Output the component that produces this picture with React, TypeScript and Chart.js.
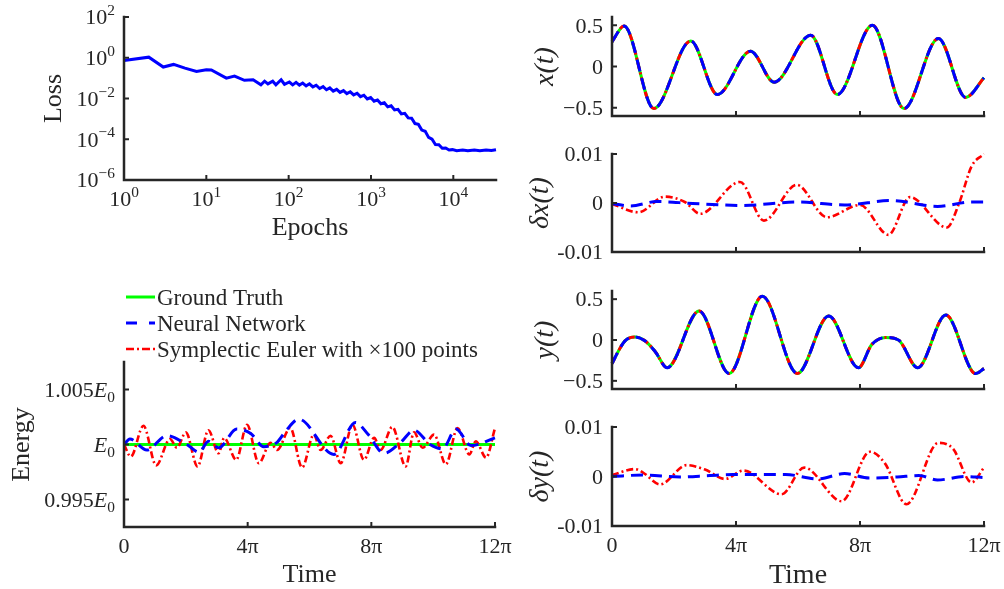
import React, { useEffect, useRef } from "react";
import { Chart, registerables } from "chart.js";
Chart.register(...registerables);

const W = 1004;
const H = 589;
const SERIF = '"Liberation Serif", "Times New Roman", serif';
const INK = "#262626";
const GREEN = "#00ff00";
const BLUE = "#0000ff";
const RED = "#ff0000";

// ---------- data ----------
const lossEpochs = [1, 2, 3, 4, 5.5, 7.6, 10, 11.5, 17.5, 22, 29, 37, 46, 51, 56, 64, 70, 81, 89, 102, 112, 123, 135, 148, 163, 179, 197, 216, 238, 262, 288, 316, 348, 383, 421, 463, 509, 560, 616, 678, 745, 820, 902, 992, 1091, 1200, 1320, 1452, 1597, 1757, 1933, 2126, 2339, 2573, 2830, 3113, 3424, 3766, 4143, 4557, 5013, 5514, 6065, 6672, 7339, 8073, 8880, 9768, 11000, 13000, 15000, 18000, 21000, 25000, 29000, 33000];
const lossValues = [0.74, 1.07, 0.35, 0.47, 0.31, 0.21, 0.26, 0.25, 0.1, 0.126, 0.078, 0.083, 0.047, 0.071, 0.052, 0.071, 0.047, 0.083, 0.05, 0.0646, 0.0468, 0.0617, 0.0457, 0.0575, 0.0417, 0.0525, 0.0372, 0.0447, 0.0309, 0.038, 0.0269, 0.0331, 0.0229, 0.0282, 0.02, 0.0245, 0.0174, 0.0214, 0.0151, 0.0182, 0.0123, 0.0145, 0.00955, 0.0112, 0.00741, 0.00851, 0.0055, 0.00617, 0.00389, 0.00437, 0.00275, 0.00295, 0.00174, 0.00186, 0.00112, 0.00107, 5.89e-4, 5.37e-4, 2.82e-4, 2.45e-4, 1.23e-4, 1.0e-4, 5.5e-5, 5.37e-5, 3.63e-5, 3.72e-5, 2.95e-5, 3.09e-5, 2.75e-5, 2.95e-5, 2.7e-5, 2.95e-5, 2.75e-5, 3.0e-5, 2.8e-5, 3.05e-5];

const timeTickValues = [0, 4, 8, 12];
const timeTickLabels = ["0", "4π", "8π", "12π"];

const energyTruthTime = [0, 12];
const energyTruth = [1, 1];
const energyNNTime = [0, 0.19, 0.74, 1.38, 2.03, 2.43, 2.73, 3.06, 3.65, 4.1, 4.52, 4.95, 5.25, 5.65, 6.79, 7.49, 7.9, 8.41, 8.95, 9.38, 9.9, 10.3, 10.74, 11.22, 12];
const energyNN = [1.0, 1.0005, 0.9995, 1.0008, 1.0, 0.9993, 1.0003, 0.9997, 1.0014, 1.001, 0.9998, 1.0002, 1.0013, 1.0023, 0.9991, 1.002, 1.0009, 0.9992, 1.0002, 1.0013, 1.0, 0.9996, 1.0014, 0.9999, 1.0006];
const energySETime = [0, 0.22, 0.63, 1.04, 1.49, 1.71, 2.0, 2.38, 2.73, 3.06, 3.24, 3.63, 3.98, 4.36, 4.74, 4.95, 5.38, 5.76, 6.14, 6.36, 6.68, 7.01, 7.39, 7.76, 8.09, 8.3, 8.68, 9.11, 9.38, 9.66, 10.03, 10.41, 10.79, 11.17, 11.38, 11.71, 12];
const energySE = [1.0, 0.9989, 1.0017, 0.9981, 1.0005, 0.9997, 1.0011, 0.998, 1.0013, 0.9992, 1.0006, 0.9986, 1.0018, 0.9983, 1.00015, 0.9995, 1.0015, 0.9979, 1.0009, 0.9995, 1.0008, 0.9983, 1.0018, 0.9986, 1.0006, 0.9995, 1.0016, 0.998, 1.0011, 0.9997, 1.0009, 0.9982, 1.0015, 0.9991, 1.0003, 0.9988, 1.0015];

const xTime = [0, 0.39, 1.35, 2.54, 3.4, 4.47, 5.23, 6.41, 7.27, 8.4, 9.42, 10.53, 11.41, 12];
const xTraj = [0.3, 0.49, -0.51, 0.31, -0.34, 0.186, -0.19, 0.38, -0.34, 0.5, -0.51, 0.34, -0.375, -0.137];

const yTime = [0, 0.2, 0.42, 0.74, 1.06, 1.39, 1.78, 2.81, 3.78, 4.85, 5.98, 6.99, 7.95, 8.38, 8.83, 9.24, 9.86, 10.77, 11.73, 12];
const yTraj = [-0.29, -0.14, -0.01, 0.036, -0.01, -0.14, -0.34, 0.355, -0.41, 0.536, -0.41, 0.295, -0.34, -0.056, 0.03, 0.0, -0.34, 0.306, -0.41, -0.35];

const dxNNTime = [0, 0.6, 1.45, 2.6, 4.2, 6.0, 7.5, 9.0, 10.5, 11.6, 12];
const dxNN = [-0.0001, -0.0006, 0.0003, -0.0001, -0.0005, 0.0002, -0.0004, 0.0005, -0.0007, 0.0002, 0.0002];
const dxSETime = [0, 0.85, 1.71, 2.35, 2.84, 4.13, 4.9, 5.96, 6.93, 8.0, 8.92, 9.61, 10.8, 11.2, 11.6, 12];
const dxSE = [-0.0002, -0.0019, 0.0013, 0.0002, -0.0022, 0.0043, -0.0036, 0.0037, -0.0029, -0.0004, -0.0065, 0.0012, -0.005, 0.0, 0.0075, 0.01];

const dyNNTime = [0, 1.0, 2.2, 3.16, 3.9, 5.6, 6.65, 7.5, 8.3, 9.2, 9.9, 10.5, 11.4, 12];
const dyNN = [0, 0.0003, -0.0001, 0.0002, 0.0004, 0.0004, -0.0005, 0.0006, -0.0003, -0.0001, 0.0002, -0.0007, 0.0, -0.0002];
const dySETime = [0, 0.74, 1.0, 1.55, 2.41, 3.0, 3.65, 4.24, 5.47, 6.2, 7.41, 8.32, 8.8, 9.5, 10.53, 11.0, 11.6, 12];
const dySE = [0.0003, 0.0015, 0.0008, -0.0016, 0.0023, 0.0014, -0.0005, 0.0012, -0.0036, 0.0018, -0.005, 0.005, 0.0027, -0.0056, 0.0068, 0.0056, -0.0012, 0.0018];

const legendLabels = ["Ground Truth", "Neural Network", "Symplectic Euler with ×100 points"];

// ---------- helpers ----------
type Part = { t: string; it?: boolean; sup?: boolean; sub?: boolean };
type Tick = { v: number; parts?: Part[] };
type Panel = {
  area: [number, number, number, number];
  xType: string;
  yType: string;
  xMin: number;
  xMax: number;
  yMin: number;
  yMax: number;
  xTicks: Tick[];
  yTicks: Tick[];
  tickSize: number;
  xTitle?: { parts: Part[]; y: number };
  yTitle?: { parts: Part[]; x: number };
  titleSize: number;
  legend?: boolean;
  datasets: any[];
};

const P = (t: string): Part[] => [{ t }];
const pow10 = (e: string): Part[] => [{ t: "10" }, { t: e, sup: true }];
const eLabel = (pre: string): Part[] => [...(pre ? [{ t: pre }] : []), { t: "E", it: true }, { t: "0", sub: true }];

const timeTicks = (withLabels: boolean): Tick[] =>
  timeTickValues.map((v, i) => ({ v, parts: withLabels ? P(timeTickLabels[i]) : undefined }));

const BLUE_DASH = [12, 7];
const RED_DASH = [7, 3, 2, 3];

function series(xs: number[], ys: number[], color: string, dash: number[], width: number, order: number, smooth = true) {
  return {
    data: xs.map((x, i) => ({ x, y: ys[i] })),
    borderColor: color,
    borderWidth: width,
    borderDash: dash,
    pointRadius: 0,
    fill: false,
    cubicInterpolationMode: smooth ? "monotone" : "default",
    tension: 0,
    clip: false,
    order,
  };
}

function drawRich(ctx: CanvasRenderingContext2D, parts: Part[], x: number, y: number, align: string, size: number) {
  const pieces = parts.map((p) => {
    const s = p.sup || p.sub ? size * 0.7 : size;
    const font = `${p.it ? "italic " : ""}${s}px ${SERIF}`;
    ctx.font = font;
    return { p, font, w: ctx.measureText(p.t).width };
  });
  const total = pieces.reduce((a, q) => a + q.w, 0);
  let cx = align === "left" ? x : align === "right" ? x - total : x - total / 2;
  ctx.textAlign = "left";
  ctx.textBaseline = "alphabetic";
  for (const q of pieces) {
    ctx.font = q.font;
    const dy = q.p.sup ? -size * 0.42 : q.p.sub ? size * 0.22 : 0;
    ctx.fillText(q.p.t, cx, y + dy);
    cx += q.w;
  }
}

function makeDeco(p: Panel) {
  return {
    id: "deco",
    afterDraw(chart: any) {
      const ctx: CanvasRenderingContext2D = chart.ctx;
      const { left, right, top, bottom } = chart.chartArea;
      const xs = chart.scales.x;
      const ys = chart.scales.y;
      ctx.save();
      ctx.setLineDash([]);
      ctx.strokeStyle = INK;
      ctx.fillStyle = INK;
      ctx.lineWidth = 2.5;
      ctx.lineCap = "square";
      ctx.beginPath();
      ctx.moveTo(left, top);
      ctx.lineTo(left, bottom);
      ctx.lineTo(right, bottom);
      ctx.stroke();
      ctx.lineWidth = 2;
      ctx.lineCap = "butt";
      for (const t of p.yTicks) {
        const py = ys.getPixelForValue(t.v);
        ctx.beginPath();
        ctx.moveTo(left, py);
        ctx.lineTo(left + 5, py);
        ctx.stroke();
        if (t.parts) drawRich(ctx, t.parts, left - 9, py + p.tickSize * 0.33, "right", p.tickSize);
      }
      for (const t of p.xTicks) {
        const px = xs.getPixelForValue(t.v);
        ctx.beginPath();
        ctx.moveTo(px, bottom);
        ctx.lineTo(px, bottom - 5);
        ctx.stroke();
        if (t.parts) drawRich(ctx, t.parts, px, bottom + 26, "center", p.tickSize);
      }
      if (p.xTitle) drawRich(ctx, p.xTitle.parts, (left + right) / 2, p.xTitle.y, "center", p.titleSize);
      if (p.yTitle) {
        ctx.save();
        ctx.translate(p.yTitle.x, (top + bottom) / 2);
        ctx.rotate(-Math.PI / 2);
        drawRich(ctx, p.yTitle.parts, 0, p.titleSize * 0.33, "center", p.titleSize);
        ctx.restore();
      }
      if (p.legend) {
        const rows = [297, 323, 349];
        const styles = [
          { c: GREEN, d: [] as number[], w: 3 },
          { c: BLUE, d: [11, 12], w: 3 },
          { c: RED, d: [8, 3, 2, 3], w: 2.6 },
        ];
        rows.forEach((ry, i) => {
          ctx.strokeStyle = styles[i].c;
          ctx.lineWidth = styles[i].w;
          ctx.setLineDash(styles[i].d);
          ctx.beginPath();
          ctx.moveTo(126, ry);
          ctx.lineTo(155, ry);
          ctx.stroke();
          ctx.setLineDash([]);
          ctx.fillStyle = INK;
          drawRich(ctx, P(legendLabels[i]), 157, ry + 7.5, "left", 23);
        });
      }
      ctx.restore();
    },
  };
}

function buildConfig(p: Panel): any {
  const [l, t, r, b] = p.area;
  return {
    type: "line",
    data: { datasets: p.datasets },
    options: {
      responsive: false,
      animation: false,
      events: [],
      layout: { padding: { left: l, top: t, right: W - r, bottom: H - b } },
      plugins: { legend: { display: false }, tooltip: { enabled: false } },
      scales: {
        x: { type: p.xType, min: p.xMin, max: p.xMax, display: false },
        y: { type: p.yType, min: p.yMin, max: p.yMax, display: false },
      },
    },
    plugins: [makeDeco(p)],
  };
}

// ---------- panels ----------
const TICK = 22;
const TITLE = 26;

const lossPanel: Panel = {
  area: [124, 17, 496, 180],
  xType: "logarithmic",
  yType: "logarithmic",
  xMin: 1,
  xMax: 33000,
  yMin: 1e-6,
  yMax: 100,
  xTicks: [1, 10, 100, 1000, 10000].map((v, i) => ({ v, parts: pow10(String(i)) })),
  yTicks: [
    { v: 100, parts: pow10("2") },
    { v: 1, parts: pow10("0") },
    { v: 0.01, parts: pow10("−2") },
    { v: 1e-4, parts: pow10("−4") },
    { v: 1e-6, parts: pow10("−6") },
  ],
  tickSize: TICK,
  xTitle: { parts: P("Epochs"), y: 235 },
  yTitle: { parts: P("Loss"), x: 52 },
  titleSize: TITLE,
  datasets: [series(lossEpochs, lossValues, BLUE, [], 3, 1, false)],
};

const energyPanel: Panel = {
  area: [124, 362, 495, 527],
  xType: "linear",
  yType: "linear",
  xMin: 0,
  xMax: 12,
  yMin: 0.9925,
  yMax: 1.0075,
  xTicks: timeTicks(true),
  yTicks: [
    { v: 1.005, parts: eLabel("1.005") },
    { v: 1, parts: eLabel("") },
    { v: 0.995, parts: eLabel("0.995") },
  ],
  tickSize: TICK,
  xTitle: { parts: P("Time"), y: 582 },
  yTitle: { parts: P("Energy"), x: 20 },
  titleSize: TITLE,
  legend: true,
  datasets: [
    series(energyTruthTime, energyTruth, GREEN, [], 3, 3, false),
    series(energySETime, energySE, RED, RED_DASH, 2.6, 2),
    series(energyNNTime, energyNN, BLUE, BLUE_DASH, 3, 1),
  ],
};

const rightArea = (t: number, b: number): [number, number, number, number] => [612, t, 984, b];

const xPanel: Panel = {
  area: rightArea(17, 116),
  xType: "linear",
  yType: "linear",
  xMin: 0,
  xMax: 12,
  yMin: -0.6,
  yMax: 0.6,
  xTicks: timeTicks(false),
  yTicks: [
    { v: 0.5, parts: P("0.5") },
    { v: 0, parts: P("0") },
    { v: -0.5, parts: P("−0.5") },
  ],
  tickSize: TICK,
  yTitle: { parts: [{ t: "x(t)", it: true }], x: 544 },
  titleSize: 28,
  datasets: [
    series(xTime, xTraj, GREEN, [], 3, 3),
    series(xTime, xTraj, RED, RED_DASH, 3, 2),
    series(xTime, xTraj, BLUE, BLUE_DASH, 3, 1),
  ],
};

const dxPanel: Panel = {
  area: rightArea(154, 252),
  xType: "linear",
  yType: "linear",
  xMin: 0,
  xMax: 12,
  yMin: -0.01,
  yMax: 0.01,
  xTicks: timeTicks(false),
  yTicks: [
    { v: 0.01, parts: P("0.01") },
    { v: 0, parts: P("0") },
    { v: -0.01, parts: P("-0.01") },
  ],
  tickSize: TICK,
  yTitle: { parts: [{ t: "δx(t)", it: true }], x: 539 },
  titleSize: 28,
  datasets: [series(dxSETime, dxSE, RED, RED_DASH, 2.6, 2), series(dxNNTime, dxNN, BLUE, BLUE_DASH, 3, 1)],
};

const yPanel: Panel = {
  area: rightArea(291, 389),
  xType: "linear",
  yType: "linear",
  xMin: 0,
  xMax: 12,
  yMin: -0.6,
  yMax: 0.6,
  xTicks: timeTicks(false),
  yTicks: [
    { v: 0.5, parts: P("0.5") },
    { v: 0, parts: P("0") },
    { v: -0.5, parts: P("−0.5") },
  ],
  tickSize: TICK,
  yTitle: { parts: [{ t: "y(t)", it: true }], x: 544 },
  titleSize: 28,
  datasets: [
    series(yTime, yTraj, GREEN, [], 3, 3),
    series(yTime, yTraj, RED, RED_DASH, 3, 2),
    series(yTime, yTraj, BLUE, BLUE_DASH, 3, 1),
  ],
};

const dyPanel: Panel = {
  area: rightArea(427, 526),
  xType: "linear",
  yType: "linear",
  xMin: 0,
  xMax: 12,
  yMin: -0.01,
  yMax: 0.01,
  xTicks: timeTicks(true),
  yTicks: [
    { v: 0.01, parts: P("0.01") },
    { v: 0, parts: P("0") },
    { v: -0.01, parts: P("-0.01") },
  ],
  tickSize: TICK,
  xTitle: { parts: P("Time"), y: 583 },
  yTitle: { parts: [{ t: "δy(t)", it: true }], x: 539 },
  titleSize: 28,
  datasets: [series(dySETime, dySE, RED, RED_DASH, 2.6, 2), series(dyNNTime, dyNN, BLUE, BLUE_DASH, 3, 1)],
};

const panels = [lossPanel, energyPanel, xPanel, dxPanel, yPanel, dyPanel];

function PanelChart({ panel }: { panel: Panel }) {
  const ref = useRef<HTMLCanvasElement>(null);
  useEffect(() => {
    const chart = new Chart(ref.current as HTMLCanvasElement, buildConfig(panel));
    let alive = true;
    const fonts: any = (document as any).fonts;
    if (fonts && fonts.ready) fonts.ready.then(() => alive && chart.draw());
    return () => {
      alive = false;
      chart.destroy();
    };
  }, [panel]);
  return (
    <canvas
      ref={ref}
      width={W}
      height={H}
      style={{ position: "absolute", left: 0, top: 0, width: W, height: H }}
    />
  );
}

export default function App() {
  return (
    <div style={{ position: "fixed", left: 0, top: 0, width: W, height: H, background: "#ffffff" }}>
      {panels.map((p, i) => (
        <PanelChart key={i} panel={p} />
      ))}
    </div>
  );
}
